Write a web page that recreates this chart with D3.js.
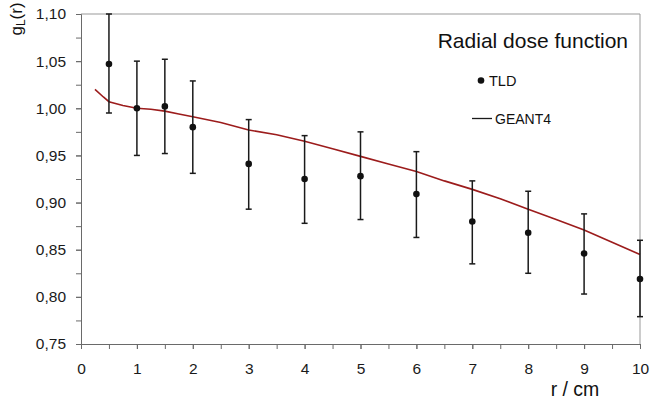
<!DOCTYPE html>
<html>
<head>
<meta charset="utf-8">
<script src="https://cdn.jsdelivr.net/npm/d3@7"></script>
<style>
  body { margin: 0; background: #fff; }
  svg { display: block; font-family: "Liberation Sans", Arial, sans-serif; }
  .axis path, .axis line { stroke: #6a6a6a; }
  .axis text { fill: #1a1a1a; font-size: 15.5px; }
</style>
</head>
<body>
<div id="chart"></div>
<script>
// TLD measurements with error bars
var tldR = [0.5, 1, 1.5, 2, 3, 4, 5, 6, 7, 8, 9, 10];
var tldG = [1.047, 1.000, 1.002, 0.980, 0.941, 0.925, 0.928, 0.909, 0.880, 0.868, 0.846, 0.819];
var tldHi = [1.100, 1.050, 1.052, 1.029, 0.988, 0.971, 0.975, 0.954, 0.923, 0.912, 0.888, 0.860];
var tldLo = [0.995, 0.950, 0.952, 0.931, 0.893, 0.878, 0.882, 0.863, 0.835, 0.825, 0.803, 0.779];

// GEANT4 simulation curve
var g4R = [0.25, 0.4, 0.5, 0.75, 1, 1.25, 1.5, 1.75, 2, 2.5, 3, 3.5, 4, 4.5, 5, 5.5, 6, 6.5, 7, 7.5, 8, 8.5, 9, 9.5, 10];
var g4G = [1.020, 1.012, 1.007, 1.003, 1.000, 0.999, 0.997, 0.994, 0.991, 0.985, 0.977, 0.972, 0.965, 0.957, 0.949, 0.941, 0.933, 0.923, 0.914, 0.904, 0.893, 0.882, 0.871, 0.858, 0.845];

var yMajor = [0.75, 0.80, 0.85, 0.90, 0.95, 1.00, 1.05, 1.10];
var xMajor = [0, 1, 2, 3, 4, 5, 6, 7, 8, 9, 10];

var margin = { top: 14, right: 10, bottom: 58, left: 81 },
  width = 650,
  height = 402,
  innerWidth = width - margin.left - margin.right,
  innerHeight = height - margin.top - margin.bottom;

var comma = d3.formatLocale({ decimal: ",", thousands: ".", grouping: [3], currency: ["", ""] }).format(".2f");

var x = d3.scaleLinear().domain([0, 10]).range([0, innerWidth]);
var y = d3.scaleLinear().domain([0.75, 1.10]).range([innerHeight, 0]);

var svg = d3.select("#chart").append("svg")
  .attr("width", width)
  .attr("height", height);

var g = svg.append("g")
  .attr("transform", "translate(" + margin.left + "," + margin.top + ")");

// frame (top and right)
g.append("path")
  .attr("d", "M0,0H" + innerWidth + "V" + innerHeight)
  .attr("fill", "none")
  .attr("stroke", "#999");

// minor ticks, no labels
var yMinor = d3.range(0, 15).map(function(i) { return 0.75 + i * 0.025; });
var xMinor = d3.range(0, 21).map(function(i) { return i * 0.5; });

g.append("g").attr("class", "axis")
  .attr("transform", "translate(0," + innerHeight + ")")
  .call(d3.axisBottom(x).tickValues(xMinor).tickSize(5).tickFormat(""))
  .call(function(a) { a.selectAll("text").remove(); });

g.append("g").attr("class", "axis")
  .call(d3.axisLeft(y).tickValues(yMinor).tickSize(5).tickFormat(""))
  .call(function(a) { a.selectAll("text").remove(); });

// labelled ticks
g.append("g").attr("class", "axis")
  .attr("transform", "translate(0," + innerHeight + ")")
  .call(d3.axisBottom(x).tickValues(xMajor).tickSize(5).tickPadding(14).tickFormat(d3.format("d")))
  .call(function(a) { a.select(".domain").remove(); });

g.append("g").attr("class", "axis")
  .call(d3.axisLeft(y).tickValues(yMajor).tickSize(5).tickPadding(10).tickFormat(comma))
  .call(function(a) { a.select(".domain").remove(); });

// GEANT4 line
var line = d3.line()
  .x(function(d) { return x(d[0]); })
  .y(function(d) { return y(d[1]); });

g.append("path")
  .datum(g4R.map(function(r, i) { return [r, g4G[i]]; }))
  .attr("d", line)
  .attr("fill", "none")
  .attr("stroke", "#9c1c1c")
  .attr("stroke-width", 1.6);

// TLD error bars and dots
var tld = tldR.map(function(r, i) { return { r: r, g: tldG[i], hi: tldHi[i], lo: tldLo[i] }; });

var bars = g.selectAll(".err").data(tld).enter().append("g")
  .attr("class", "err")
  .attr("stroke", "#1a1a1a")
  .attr("stroke-width", 1.5);

bars.append("line")
  .attr("x1", function(d) { return x(d.r); })
  .attr("x2", function(d) { return x(d.r); })
  .attr("y1", function(d) { return y(d.hi); })
  .attr("y2", function(d) { return y(d.lo); });

bars.append("line")
  .attr("x1", function(d) { return x(d.r) - 3; })
  .attr("x2", function(d) { return x(d.r) + 3; })
  .attr("y1", function(d) { return y(d.hi); })
  .attr("y2", function(d) { return y(d.hi); });

bars.append("line")
  .attr("x1", function(d) { return x(d.r) - 3; })
  .attr("x2", function(d) { return x(d.r) + 3; })
  .attr("y1", function(d) { return y(d.lo); })
  .attr("y2", function(d) { return y(d.lo); });

g.selectAll(".dot").data(tld).enter().append("circle")
  .attr("class", "dot")
  .attr("cx", function(d) { return x(d.r); })
  .attr("cy", function(d) { return y(d.g); })
  .attr("r", 3.3)
  .attr("fill", "#111");

// title and legend
svg.append("text")
  .attr("x", 628).attr("y", 48)
  .attr("text-anchor", "end")
  .attr("font-size", 21)
  .attr("fill", "#111")
  .text("Radial dose function");

svg.append("circle")
  .attr("cx", 481).attr("cy", 80.5).attr("r", 3.3).attr("fill", "#111");
svg.append("text")
  .attr("x", 489).attr("y", 85.5)
  .attr("font-size", 14.5).attr("fill", "#111")
  .text("TLD");

svg.append("line")
  .attr("x1", 472).attr("x2", 492).attr("y1", 118.5).attr("y2", 118.5)
  .attr("stroke", "#1a1a1a").attr("stroke-width", 1.3);
svg.append("text")
  .attr("x", 495).attr("y", 123.5)
  .attr("font-size", 14).attr("fill", "#111")
  .text("GEANT4");

// axis titles
svg.append("text")
  .attr("x", 575).attr("y", 396)
  .attr("text-anchor", "middle")
  .attr("font-size", 19.5).attr("fill", "#111")
  .text("r / cm");

var yl = svg.append("text")
  .attr("transform", "translate(22,19) rotate(-90)")
  .attr("text-anchor", "middle")
  .attr("font-size", 17).attr("fill", "#111");
yl.append("tspan").text("g");
yl.append("tspan").attr("font-size", 12).attr("dy", 3).text("L");
yl.append("tspan").attr("dy", -3).text("(r)");
</script>
</body>
</html>
